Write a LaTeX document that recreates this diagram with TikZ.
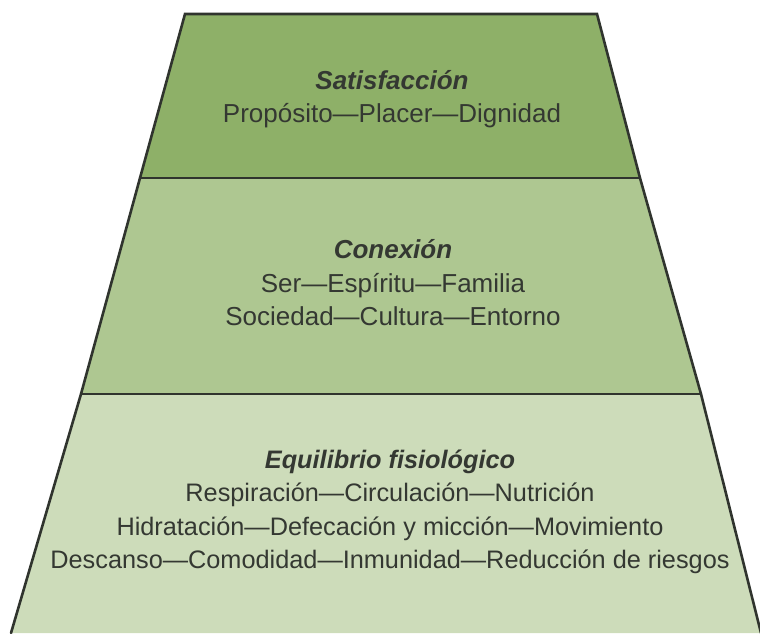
\documentclass[tikz,border=0pt]{standalone}
\usepackage{fontspec}
\setmainfont{Liberation Sans}

\begin{document}
\begin{tikzpicture}[x=1pt,y=-1pt,
    bandline/.style={draw=edgecolor,line width=2.6pt,line cap=round},
    bandtext/.style={align=center,text=textcolor,inner sep=0pt,
      font=\fontsize{26}{33.5}\selectfont}]
    \definecolor{textcolor}{RGB}{52,56,50}
    \definecolor{edgecolor}{RGB}{48,52,46}
    \definecolor{bandcolor1}{RGB}{142,176,104}
    \definecolor{bandcolor2}{RGB}{174,199,145}
    \definecolor{bandcolor3}{RGB}{205,220,186}

    \useasboundingbox (0,0) rectangle (760,633);

    % bordes de la piramide
    \coordinate (l0) at (185,14);  \coordinate (r0) at (597,14);
    \coordinate (l1) at (140,178); \coordinate (r1) at (640,178);
    \coordinate (l2) at (81,394);  \coordinate (r2) at (701,394);
    \coordinate (l3) at (11,633);  \coordinate (r3) at (761,633);

    % Satisfaccion
    \fill[bandcolor1] (l0) -- (r0) -- (r1) -- (l1) -- cycle;
    \node[bandtext] (satisf) at (392,99)
      {\textbf{\textit{Satisfacción}}\\Propósito—Placer—Dignidad};

    % Conexion
    \fill[bandcolor2] (l1) -- (r1) -- (r2) -- (l2) -- cycle;
    \node[bandtext] (conex) at (393,283)
      {\textbf{\textit{Conexión}}\\Ser—Espíritu—Familia\\Sociedad—Cultura—Entorno};

    % Equilibrio fisiologico
    \fill[bandcolor3] (l2) -- (r2) -- (r3) -- (l3) -- cycle;
    \node[bandtext,font=\fontsize{25.3}{33.5}\selectfont] (equil) at (390,512)
      {\textbf{\textit{Equilibrio fisiológico}}\\Respiración—Circulación—Nutrición\\
       Hidratación—Defecación y micción—Movimiento\\
       Descanso—Comodidad—Inmunidad—Reducción de riesgos};

    % lineas
    \draw[bandline] (l3) -- (l2) -- (l1) -- (l0) -- (r0) -- (r1) -- (r2) -- (r3);
    \draw[bandline] (l1) -- (r1);
    \draw[bandline] (l2) -- (r2);
\end{tikzpicture}
\end{document}
